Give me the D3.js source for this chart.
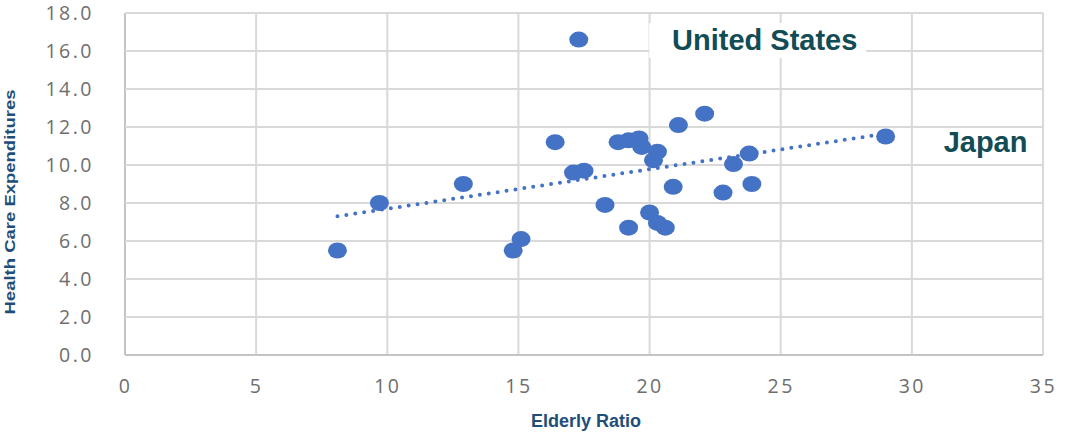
<!DOCTYPE html>
<html>
<head>
<meta charset="utf-8">
<script src="https://cdn.jsdelivr.net/npm/d3@7"></script>
<style>
  body { margin: 0; background: #fff; }
  svg { display: block; }
</style>
</head>
<body>
<div id="chart"></div>
<script>
// values
const elderlyRatio = [8.1, 9.7, 12.9, 14.8, 15.1, 16.4, 17.3, 17.1, 17.5, 18.3, 19.2, 18.8, 19.2, 19.6,
    19.7, 20.0, 20.3, 20.15, 20.3, 20.6, 20.9, 21.1, 22.1, 22.8, 23.2, 23.8, 23.9, 29.0];
const healthExp = [5.5, 8.0, 9.0, 5.5, 6.1, 11.2, 16.6, 9.6, 9.7, 7.9, 6.7, 11.2, 11.3, 11.4,
    10.95, 7.5, 10.7, 10.25, 6.95, 6.7, 8.85, 12.1, 12.7, 8.55, 10.05, 10.6, 9.0, 11.5];
const trendX = [8.1, 29.0];
const trendY = [7.3, 11.65];
const xTicks = [0, 5, 10, 15, 20, 25, 30, 35];
const yTicks = [0, 2, 4, 6, 8, 10, 12, 14, 16, 18];
const callouts = [
    { name: "United States", x: 24.39, y: 16.05, box: true },
    { name: "Japan", x: 32.81, y: 10.68, box: false }
];

const width = 1066, height = 432;
const margin = { top: 13, right: 23, bottom: 77, left: 125 };

const svg = d3.select("#chart").append("svg")
    .attr("width", width)
    .attr("height", height);

const x = d3.scaleLinear().domain([0, 35]).range([margin.left, width - margin.right]);
const y = d3.scaleLinear().domain([0, 18]).range([height - margin.bottom, margin.top]);

// grid
svg.append("g")
    .selectAll("line")
    .data(xTicks)
    .enter().append("line")
    .attr("x1", d => x(d)).attr("x2", d => x(d))
    .attr("y1", y(0)).attr("y2", y(18))
    .attr("stroke", d => d === 0 ? "#c4c4c4" : "#d9d9d9")
    .attr("stroke-width", 2);

svg.append("g")
    .selectAll("line")
    .data(yTicks)
    .enter().append("line")
    .attr("x1", x(0)).attr("x2", x(35))
    .attr("y1", d => y(d)).attr("y2", d => y(d))
    .attr("stroke", d => d === 0 ? "#c4c4c4" : "#d9d9d9")
    .attr("stroke-width", 2);

// tick labels
const xAxis = svg.append("g")
    .attr("transform", "translate(0," + (y(0) + 24) + ")")
    .call(d3.axisBottom(x).tickValues(xTicks).tickSize(0).tickPadding(0).tickFormat(d3.format("d")));
xAxis.select(".domain").remove();

const yAxis = svg.append("g")
    .attr("transform", "translate(" + (margin.left - 31) + ",0)")
    .call(d3.axisLeft(y).tickValues(yTicks).tickSize(0).tickPadding(0).tickFormat(d3.format(".1f")));
yAxis.select(".domain").remove();

svg.selectAll(".tick text")
    .attr("font-family", "'Open Sans', sans-serif")
    .attr("font-size", 19.5)
    .attr("letter-spacing", 2.5)
    .attr("fill", "#6e6e6e");
xAxis.selectAll(".tick text").attr("dy", "0.71em");

// axis titles
svg.append("text")
    .attr("transform", "translate(15,202) rotate(-90)")
    .attr("text-anchor", "middle")
    .attr("font-family", "'Liberation Sans', Arial, sans-serif")
    .attr("font-weight", "bold")
    .attr("font-size", 15.5)
    .attr("textLength", 225)
    .attr("lengthAdjust", "spacingAndGlyphs")
    .attr("fill", "#1f4e79")
    .text("Health Care Expenditures");

svg.append("text")
    .attr("x", 586)
    .attr("y", 427)
    .attr("text-anchor", "middle")
    .attr("font-family", "'Liberation Sans', Arial, sans-serif")
    .attr("font-weight", "bold")
    .attr("font-size", 18)
    .attr("fill", "#1f4e79")
    .text("Elderly Ratio");

// trend line
svg.append("path")
    .datum(d3.zip(trendX, trendY))
    .attr("d", d3.line().x(d => x(d[0])).y(d => y(d[1])))
    .attr("fill", "none")
    .attr("stroke", "#4472c4")
    .attr("stroke-width", 4)
    .attr("stroke-linecap", "round")
    .attr("stroke-dasharray", "0 9");

// points
svg.append("g")
    .selectAll("ellipse")
    .data(d3.zip(elderlyRatio, healthExp))
    .enter().append("ellipse")
    .attr("cx", d => x(d[0]))
    .attr("cy", d => y(d[1]))
    .attr("rx", 9.5)
    .attr("ry", 8)
    .attr("fill", "#4472c4");

// callouts
const labels = svg.append("g")
    .selectAll("g")
    .data(callouts)
    .enter().append("g");

labels.filter(d => d.box).append("rect")
    .attr("x", d => x(d.x) - 115.5)
    .attr("y", d => y(d.y) - 27)
    .attr("width", 217)
    .attr("height", 35)
    .attr("fill", "#fff");

labels.append("text")
    .attr("x", d => x(d.x))
    .attr("y", d => y(d.y))
    .attr("text-anchor", "middle")
    .attr("font-family", "'Liberation Sans', Arial, sans-serif")
    .attr("font-weight", "bold")
    .attr("font-size", 29)
    .attr("fill", "#124c55")
    .text(d => d.name);
</script>
</body>
</html>
